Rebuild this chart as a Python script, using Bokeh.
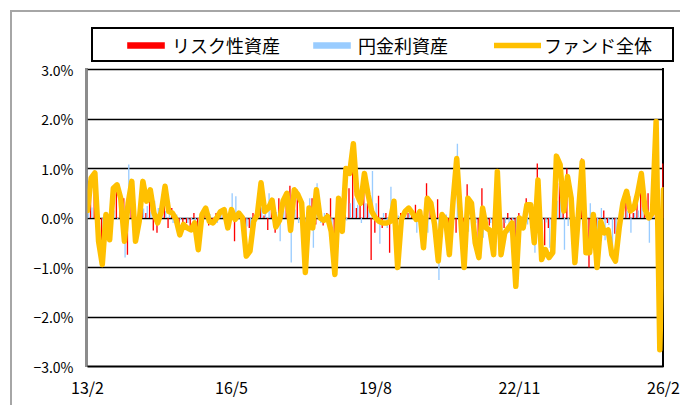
from bokeh.plotting import figure
from bokeh.models import (ColumnDataSource, Range1d, FixedTicker, Legend, LegendItem)
from bokeh.transform import dodge
from bokeh.embed import file_html
from bokeh.resources import INLINE

# ---- data (monthly returns, %), 2013/2 .. 2026/2 ----
fund = [0.15, 0.81, 0.91, -0.47, -0.94, 0.07, -0.44, 0.60, 0.67, 0.40,
        -0.47, 0.30, 0.74, -0.47, -0.07, 0.74, 0.34, 0.57, 0.10, -0.10,
        0.13, 0.64, 0.13, 0.10, -0.03, -0.34, -0.13, -0.20, -0.24, -0.10,
        -0.64, 0.07, 0.20, -0.07, -0.10, 0.00, 0.13, 0.17, -0.20, 0.17,
        -0.03, 0.10, 0.00, -0.77, -0.67, -0.07, 0.07, 0.71, 0.13, 0.20,
        0.36, -0.18, -0.05, 0.35, 0.50, -0.25, 0.57, 0.47, 0.30, -1.10,
        0.20, -0.20, 0.57, 0.00, -0.05, 0.03, -0.27, -1.14, 0.40, -0.27,
        1.00, 0.90, 1.50, 0.47, 0.30, 0.90, 0.47, 0.13, 0.00, -0.07,
        -0.10, -0.10, -0.07, 0.34, -1.00, -0.03, 0.13, 0.20, 0.10, -0.03,
        0.13, -0.60, 0.40, 0.30, -0.13, -0.87, 0.07, -0.03, -0.74, 0.34,
        1.20, 0.07, -1.00, 0.40, 0.30, -0.50, -0.80, 0.20, -0.20, -0.25,
        -0.74, 0.94, -0.74, -0.30, -0.20, -0.10, -1.38, 0.00, -0.20, 0.27,
        0.27, -0.50, 0.77, -0.84, -0.64, -0.80, -0.70, 1.25, 1.08, 0.14,
        0.84, 0.40, -0.90, 0.13, 1.14, -0.70, -0.70, 0.07, -1.00, -0.07,
        -0.30, -0.24, -0.74, -0.87, -0.20, 0.30, 0.54, 0.14, 0.20, 0.50,
        0.90, 0.17, 0.00, 0.10, 1.95, -2.66, 0.57]

risk = [0.05, 0.60, 0.93, -0.30, -0.70, -0.05, -0.30, 0.45, 0.70, 0.20,
        0.40, -0.74, 0.50, -0.30, -0.15, 0.55, 0.10, 0.45, -0.25, -0.30,
        0.05, 0.50, -0.20, 0.20, -0.10, -0.30, -0.15, -0.10, -0.20, 0.10,
        -0.45, 0.05, 0.10, -0.15, -0.05, 0.10, 0.05, 0.10, -0.10, -0.05,
        -0.47, 0.10, 0.05, -0.60, -0.20, 0.10, 0.05, 0.50, 0.05, -0.24,
        0.30, -0.30, 0.40, 0.20, 0.30, 0.65, 0.40, 0.57, 0.15, -0.80,
        -0.20, 0.40, -0.13, 0.10, -0.15, 0.10, 0.40, -0.80, 0.20, -0.10,
        1.05, 0.60, 1.10, 0.20, 0.40, 0.60, 0.30, -0.85, -0.30, 0.45,
        -0.20, 0.10, -0.70, 0.20, -1.05, 0.10, 0.05, 0.10, 0.05, 0.27,
        0.05, -0.40, 0.70, 0.20, -0.10, 0.38, 0.10, -0.10, -0.50, 0.20,
        -0.30, 0.10, -0.70, 0.68, 0.20, -0.40, -0.55, 0.60, -0.10, -0.15,
        -0.50, 0.70, -0.50, -0.20, 0.10, -0.05, -1.00, 0.10, -0.10, 0.40,
        0.20, 0.20, 1.10, -0.60, -0.55, -0.20, -0.50, 0.90, 0.70, 0.78,
        1.00, 0.30, -0.65, 0.10, 1.20, -0.50, -1.00, 0.05, -0.70, -0.27,
        0.15, -0.10, 0.00, -0.32, -0.10, 0.20, 0.40, 0.44, 0.10, 0.35,
        0.70, 0.10, 0.50, 0.05, 1.50, -2.00, 1.10]

yen = [0.10, 0.21, -0.02, -0.17, -0.24, 0.12, -0.14, 0.15, -0.03, 0.20,
       -0.80, 1.08, 0.24, -0.17, 0.08, 0.19, 0.24, 0.12, 0.35, 0.20,
       0.08, 0.14, 0.33, -0.10, 0.07, -0.04, 0.02, -0.10, -0.04, -0.20,
       -0.19, 0.02, 0.10, 0.08, -0.05, -0.10, 0.08, 0.07, -0.10, 0.50,
       0.44, 0.00, -0.05, -0.17, -0.47, -0.17, 0.02, 0.21, 0.08, 0.50,
       0.06, 0.12, -0.47, 0.15, 0.20, -0.90, 0.17, -0.10, 0.15, -0.30,
       0.40, -0.60, 0.70, -0.10, 0.10, -0.07, -0.67, -0.34, 0.20, -0.17,
       -0.05, 0.30, 0.40, 0.27, -0.10, 0.30, 0.17, 0.95, 0.30, -0.52,
       0.10, -0.20, 0.63, 0.14, 0.05, -0.13, 0.08, 0.10, 0.05, -0.30,
       0.08, -0.20, -0.30, 0.10, -0.03, -1.25, -0.03, 0.07, -0.24, 0.14,
       1.50, -0.03, -0.30, -0.28, 0.10, -0.10, -0.25, -0.40, -0.10, -0.10,
       -0.24, 0.24, -0.24, -0.10, -0.30, -0.05, -0.38, -0.10, -0.10, -0.13,
       0.07, -0.70, -0.33, -0.24, -0.09, -0.60, -0.20, 0.35, 0.38, -0.64,
       -0.16, 0.10, -0.25, 0.03, -0.06, -0.20, 0.30, 0.02, -0.30, 0.20,
       -0.45, -0.14, -0.74, -0.55, -0.10, 0.10, 0.14, -0.30, 0.10, 0.15,
       0.20, 0.07, -0.50, 0.05, 0.45, -0.66, -0.53]

tick_labels = ["13/2", "16/5", "19/8", "22/11", "26/2"]
y_ticks = [-3, -2, -1, 0, 1, 2, 3]
y_tick_labels = ["\u22123.0%", "\u22122.0%", "\u22121.0%", "0.0%", "1.0%", "2.0%", "3.0%"]
series_names = ["リスク性資産", "円金利資産", "ファンド全体"]

n = len(fund)
month_idx = list(range(n))
src = ColumnDataSource(dict(x=month_idx, fund=fund, risk=risk, yen=yen))

FONT = "Noto Sans CJK JP"
RED = "#FF0000"
BLUE = "#99CCFF"
GOLD = "#FFC000"
GREY = "#a6a6a6"
AXIS_GREY = "#8c8c8c"


def bar(color, x, y, w, h):
    g = f"linear-gradient({color},{color})"
    return g, f"{w}px {h}px", f"{x}px {y}px"


# decorations drawn by CSS behind the (transparent) canvas:
# chart-area border, legend box, left axis line and right edge of plot area
deco = [bar(GREY, 10, 10, 2, 420), bar(GREY, 10, 10, 700, 2),
        bar("#000", 91, 27, 583, 2), bar("#000", 91, 60, 583, 2),
        bar("#000", 91, 27, 2, 35), bar("#000", 672, 27, 2, 35),
        bar(AXIS_GREY, 85, 68, 3, 299), bar("#000", 662, 68, 2, 299)]

PX_PER_PCT = 49.5      # pixel height of 1 % on the value axis
FRAME_TOP = 20         # frame extends above the 3 % line to host the legend
y_top = 3 + (69 - FRAME_TOP) / PX_PER_PCT

p = figure(width=680, height=405, output_backend="svg", toolbar_location=None,
           x_range=Range1d(0, n - 1), y_range=Range1d(-3, y_top),
           min_border_left=87, min_border_right=17, min_border_top=FRAME_TOP,
           min_border_bottom=39)
p.styles = {
    "background-color": "white",
    "background-image": ", ".join(d[0] for d in deco),
    "background-size": ", ".join(d[1] for d in deco),
    "background-position": ", ".join(d[2] for d in deco),
    "background-repeat": "no-repeat",
}
p.background_fill_alpha = 0
p.border_fill_alpha = 0
p.outline_line_color = None

r_red = p.vbar(x=dodge("x", -0.18, range=p.x_range), top="risk", bottom=0, width=0.36,
               fill_color=RED, line_color=None, source=src)
r_blue = p.vbar(x=dodge("x", 0.18, range=p.x_range), top="yen", bottom=0, width=0.36,
                fill_color=BLUE, line_color=None, source=src)
r_line = p.line(x="x", y="fund", line_color=GOLD, line_width=5.5, line_join="round",
                line_cap="round", source=src)

# axes
p.xgrid.visible = False
p.ygrid.ticker = FixedTicker(ticks=y_ticks)
p.ygrid.grid_line_color = "black"
p.ygrid.grid_line_width = 1.5

p.yaxis.ticker = FixedTicker(ticks=y_ticks)
p.yaxis.major_label_overrides = {t: l for t, l in zip(y_ticks, y_tick_labels)}
p.yaxis.axis_line_color = None
p.yaxis.major_tick_line_color = None
p.yaxis.minor_tick_line_color = None
p.yaxis.major_label_standoff = 8
p.yaxis.major_label_text_font = FONT
p.yaxis.major_label_text_font_size = "14px"
p.yaxis.major_label_text_color = "black"

x_ticks = [0, 39, 78, 117, 156]
p.xaxis.ticker = FixedTicker(ticks=x_ticks)
p.xaxis.major_label_overrides = {t: l for t, l in zip(x_ticks, tick_labels)}
p.xaxis.axis_line_color = "black"
p.xaxis.axis_line_width = 2
p.xaxis.major_tick_line_color = None
p.xaxis.minor_tick_line_color = None
p.xaxis.major_label_standoff = 2
p.xaxis.major_label_text_font = FONT
p.xaxis.major_label_text_font_size = "16px"
p.xaxis.major_label_text_color = "black"

legend = Legend(items=[LegendItem(label=series_names[0], renderers=[r_red]),
                       LegendItem(label=series_names[1], renderers=[r_blue]),
                       LegendItem(label=series_names[2], renderers=[r_line])],
                location=(35, 308), orientation="horizontal",
                border_line_color=None, background_fill_alpha=0,
                padding=5, margin=0, spacing=28, glyph_width=47, glyph_height=8,
                label_standoff=3, label_width=108,
                label_text_font=FONT, label_text_font_size="18px",
                label_text_color="black")
p.add_layout(legend, "center")

open("out.html", "w").write(file_html(p, INLINE))
